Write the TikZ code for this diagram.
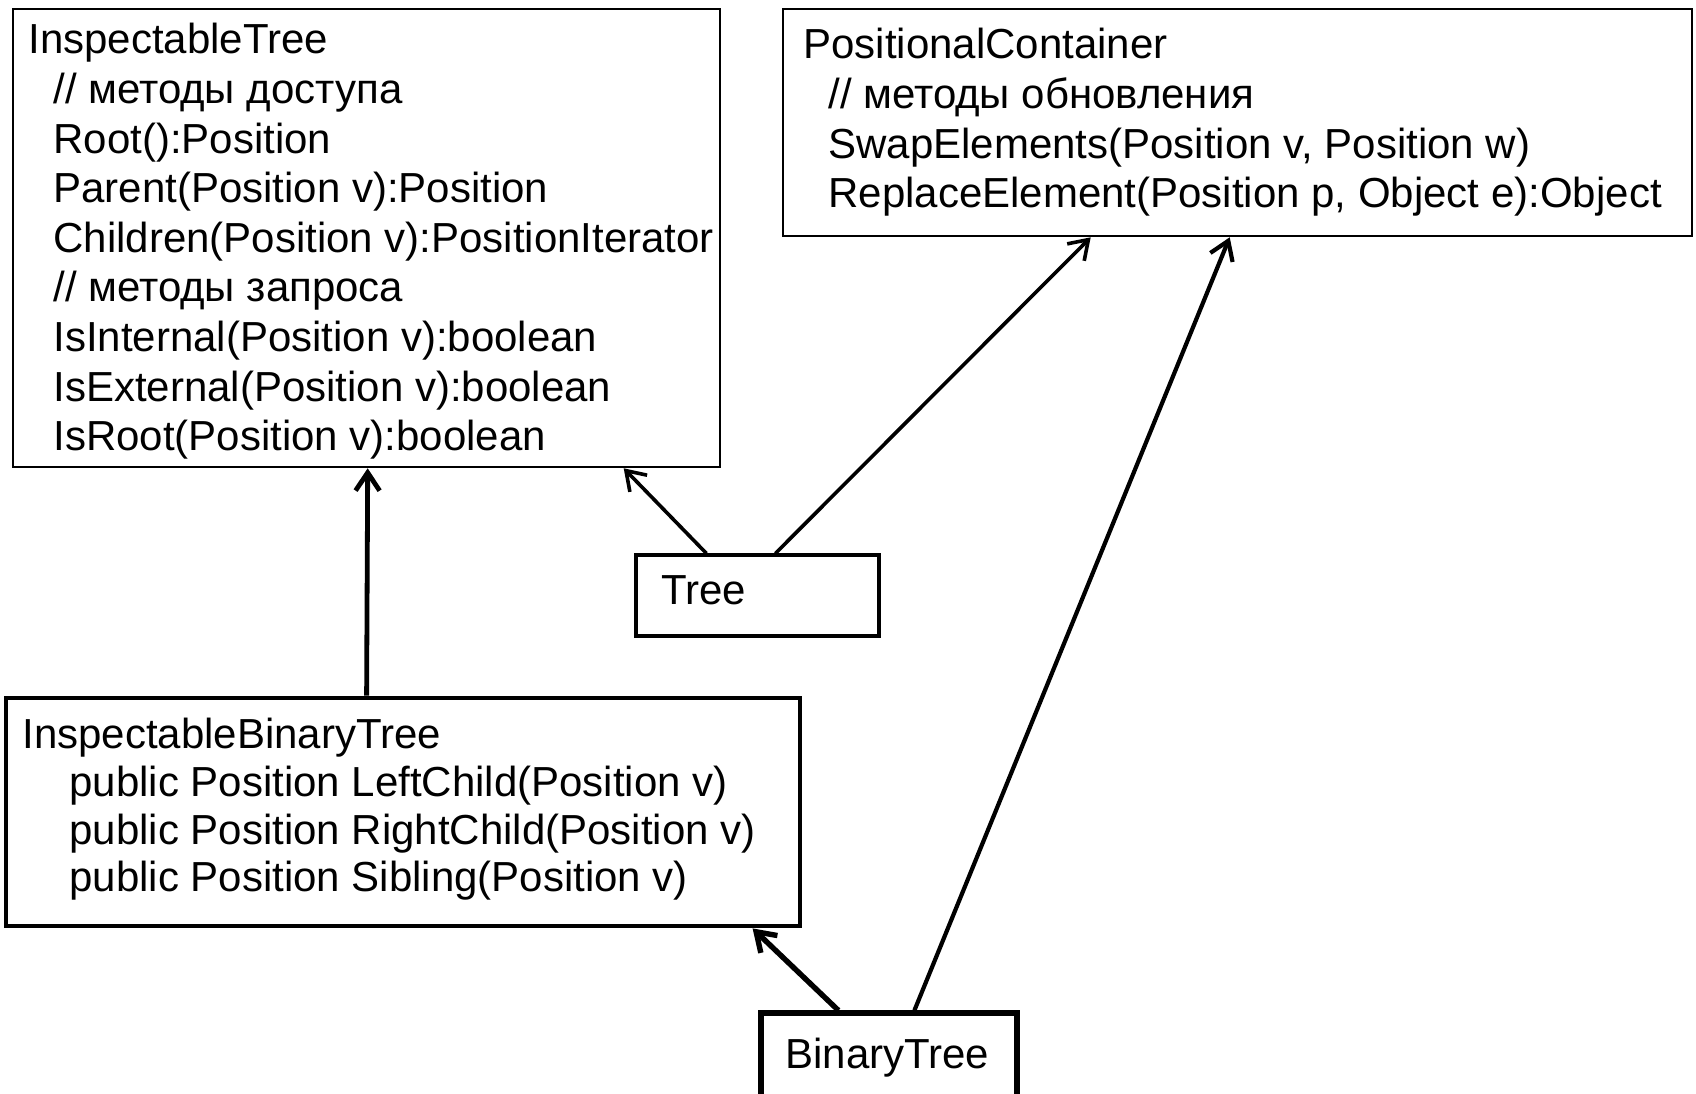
\documentclass[tikz,border=0pt]{standalone}
\usepackage{fontspec}
\setmainfont{Liberation Sans}
\usetikzlibrary{arrows.meta,fit,calc}

\newcommand{\mind}{\hspace*{12.5pt}}
\newcommand{\bind}{\hspace*{23.5pt}}

\begin{document}
\begin{tikzpicture}[x=0.5pt, y=-0.5pt,
    classbox/.style={draw, line width=1.3pt, inner sep=0pt},
    members/.style={anchor=north west, align=left, inner sep=0pt, font=\fontsize{21}{24.8}\selectfont},
    isa/.style={-{Straight Barb[length=9pt, width=12pt]}, line width=1.8pt}]
    \fill[white] (0,0) rectangle (1696,1093);
    \clip (0,0) rectangle (1696,1093);

    % InspectableTree
    \node[classbox, fit={(13,9) (720,467)}] (itree) {};
    \node[members] (itreetext) at (28,23) {InspectableTree\\
      \mind// методы доступа\\
      \mind Root():Position\\
      \mind Parent(Position v):Position\\
      \mind Children(Position v):PositionIterator\\
      \mind// методы запроса\\
      \mind IsInternal(Position v):boolean\\
      \mind IsExternal(Position v):boolean\\
      \mind IsRoot(Position v):boolean};

    % PositionalContainer
    \node[classbox, fit={(783,9) (1692,236)}] (pcont) {};
    \node[members] (pconttext) at (803,28) {PositionalContainer\\
      \mind// методы обновления\\
      \mind SwapElements(Position v, Position w)\\
      \mind ReplaceElement(Position p, Object e):Object};

    % Tree
    \node[classbox, line width=1.6pt, fit={(636,555) (879,636)}] (tree) {};
    \node[members, anchor=base west] (treetext) at (661,604) {Tree};

    % InspectableBinaryTree
    \node[classbox, line width=2.4pt, fit={(6,698) (800,926)}] (ibtree) {};
    \node[members, font=\fontsize{21}{23.8}\selectfont] (ibtreetext) at (22,718) {InspectableBinaryTree\\
      \bind public Position LeftChild(Position v)\\
      \bind public Position RightChild(Position v)\\
      \bind public Position Sibling(Position v)};

    % BinaryTree
    \node[classbox, line width=2.6pt, fit={(761,1013) (1017,1110)}] (btree) {};
    \node[members, anchor=base west] (btreetext) at (785,1068) {BinaryTree};

    % Arrows
    \draw[isa] ($(tree.north west)+(72,0)$) -- ($(itree.south west)+(612,0)$);
    \draw[isa] ($(tree.north west)+(141,0)$) -- ($(pcont.south west)+(309,0)$);
    \draw[isa, line width=2.4pt] ($(ibtree.north west)+(363,0)$) -- ($(itree.south west)+(356,0)$);
    \draw[isa, line width=2.7pt] ($(btree.north west)+(80,0)$) -- ($(ibtree.south west)+(749,0)$);
    \draw[isa, line width=2.1pt] ($(btree.north west)+(156,0)$) -- ($(pcont.south west)+(448,0)$);
\end{tikzpicture}
\end{document}
